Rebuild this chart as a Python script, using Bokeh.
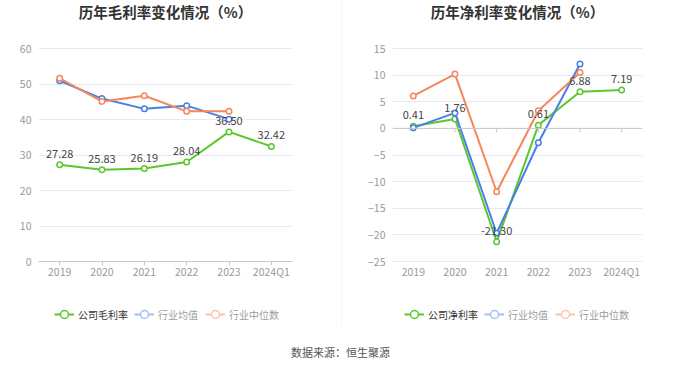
from bokeh.plotting import figure
from bokeh.models import (ColumnDataSource, LabelSet, Label, Legend, LegendItem,
                          FixedTicker, Span, Range1d)
from bokeh.layouts import row, column
from bokeh.embed import file_html
from bokeh.resources import INLINE
from bokeh.core.properties import value

# ---------------- data ----------------
years = ["2019", "2020", "2021", "2022", "2023", "2024Q1"]
industry_years = ["2019", "2020", "2021", "2022", "2023"]

gross_company = [27.28, 25.83, 26.19, 28.04, 36.50, 32.42]
gross_ind_avg = [50.9, 45.9, 43.0, 43.9, 40.1]
gross_ind_median = [51.6, 45.1, 46.7, 42.3, 42.3]
gross_ticks = [0, 10, 20, 30, 40, 50, 60]

net_company = [0.41, 1.76, -21.30, 0.61, 6.88, 7.19]
net_ind_avg = [0.1, 2.9, -19.7, -2.7, 12.1]
net_ind_median = [6.1, 10.2, -11.9, 3.3, 10.5]
net_ticks = [-25, -20, -15, -10, -5, 0, 5, 10, 15]

titles = ["历年毛利率变化情况（%）", "历年净利率变化情况（%）"]
company_names = ["公司毛利率", "公司净利率"]
avg_name = "行业均值"
median_name = "行业中位数"
source_text = "数据来源：恒生聚源"

# ---------------- style ----------------
FONT = "Noto Sans CJK SC"
GREEN = "#5cc72c"
BLUE = "#4a7ee8"
ORANGE = "#f7855a"
GRID = "#e6e9f2"
AXIS = "#c8c8c8"
TICK_TXT = "#999999"

H = 325          # canvas height of each chart
PLOT_TOP = 48    # pixel row of the top tick
PLOT_H = 213     # pixel height between top and bottom tick


def make_chart(title, cname, company, avg, median, ticks, width,
               border_left, border_right, zero_axis, legend_xs):
    lo, hi = ticks[0], ticks[-1]
    ppu = PLOT_H / (hi - lo)
    yr = (lo - (H - PLOT_TOP - PLOT_H) / ppu, hi + PLOT_TOP / ppu)
    p = figure(width=width, height=H, x_range=years, y_range=Range1d(*yr),
               output_backend="svg", toolbar_location=None,
               min_border_left=border_left, min_border_right=border_right,
               min_border_top=0, min_border_bottom=0)
    p.title.visible = False
    p.outline_line_color = None
    p.background_fill_color = "white"
    p.border_fill_color = "white"
    p.xgrid.grid_line_color = None
    p.ygrid.grid_line_color = GRID
    p.ygrid.grid_line_width = 1
    p.ygrid.ticker = FixedTicker(ticks=ticks)
    p.yaxis.ticker = FixedTicker(ticks=ticks)
    p.yaxis.axis_line_color = None
    p.yaxis.major_tick_line_color = None
    p.yaxis.minor_tick_line_color = None
    p.yaxis.major_tick_out = 0
    p.yaxis.major_tick_in = 0
    p.yaxis.major_label_standoff = 7
    p.yaxis.major_label_text_font = FONT
    p.yaxis.major_label_text_font_size = "10.5px"
    p.yaxis.major_label_text_color = TICK_TXT

    p.xaxis.fixed_location = lo
    p.xaxis.major_label_text_font = FONT
    p.xaxis.major_label_text_font_size = "10.5px"
    p.xaxis.major_label_text_color = TICK_TXT
    if zero_axis:
        p.xaxis.axis_line_color = None
        p.xaxis.major_tick_line_color = None
        p.xaxis.major_tick_out = 0
        p.xaxis.major_tick_in = 0
        p.xaxis.major_label_standoff = 2
        p.add_layout(Span(location=0, dimension="width", line_color=AXIS, line_width=1))
        tick_len = 4 / ppu
        p.segment(x0=years, y0=[0] * len(years), x1=years,
                  y1=[-tick_len] * len(years), line_color=AXIS, line_width=1)
    else:
        p.xaxis.axis_line_color = AXIS
        p.xaxis.axis_line_width = 1
        p.xaxis.major_tick_line_color = AXIS
        p.xaxis.major_tick_out = 4
        p.xaxis.major_tick_in = 0
        p.xaxis.major_label_standoff = -2

    src_c = ColumnDataSource(dict(x=years, y=company, t=["%.2f" % v for v in company]))
    src_a = ColumnDataSource(dict(x=industry_years, y=avg))
    src_m = ColumnDataSource(dict(x=industry_years, y=median))

    def series(src, col, visible=True):
        l = p.line("x", "y", source=src, line_color=col, line_width=2, visible=visible)
        s = p.scatter("x", "y", source=src, marker="circle", size=5.5,
                      fill_color="white", line_color=col, line_width=1.5, visible=visible)
        return [l, s]

    rc = series(src_c, GREEN)
    series(src_a, BLUE)
    series(src_m, ORANGE)

    p.add_layout(LabelSet(x="x", y="y", text="t", source=src_c, y_offset=11,
                          text_align="center", text_baseline="middle",
                          text_font=value(FONT), text_font_size="11px",
                          text_color="#444444"))

    # hidden copies: their legend entries are drawn faded
    ra_h = series(src_a, BLUE, visible=False)
    rm_h = series(src_m, ORANGE, visible=False)

    entries = [(cname, rc), (avg_name, ra_h), (median_name, rm_h)]
    for (name, rends), lx in zip(entries, legend_xs):
        leg = Legend(items=[LegendItem(label=name, renderers=rends)],
                     location=(lx, 0), orientation="horizontal", click_policy="hide",
                     padding=0, margin=0, border_line_color=None,
                     background_fill_alpha=0, glyph_width=20, glyph_height=22,
                     label_standoff=4, label_height=22,
                     inactive_fill_color="white", inactive_fill_alpha=0.5,
                     label_text_font=FONT, label_text_font_size="10px",
                     label_text_color="#333333", label_text_baseline="middle")
        p.add_layout(leg)

    frame_w = width - border_left - border_right
    p.add_layout(Label(x=frame_w / 2, y=H - 11, x_units="screen", y_units="screen",
                       text=title, text_align="center", text_baseline="middle",
                       text_font=FONT, text_font_size="14.5px",
                       text_font_style="bold", text_color="#333333"))
    return p


p1 = make_chart(titles[0], company_names[0], gross_company, gross_ind_avg, gross_ind_median,
                gross_ticks, 341, 38, 49, False, [16, 96, 167])
p2 = make_chart(titles[1], company_names[1], net_company, net_ind_avg, net_ind_median,
                net_ticks, 330, 50, 30, True, [12, 92, 163])

sep = figure(width=1, height=H, output_backend="svg", toolbar_location=None,
             x_range=Range1d(0, 1), y_range=Range1d(0, 1),
             x_axis_location=None, y_axis_location=None, min_border=0)
sep.title.visible = False
sep.outline_line_color = None
sep.grid.grid_line_color = None
sep.background_fill_color = "#eeeeee"
sep.border_fill_color = "#eeeeee"

p3 = figure(width=672, height=40, output_backend="svg", toolbar_location=None,
            x_range=Range1d(0, 1), y_range=Range1d(0, 1),
            x_axis_location=None, y_axis_location=None, min_border=0)
p3.title.visible = False
p3.outline_line_color = None
p3.grid.grid_line_color = None
p3.add_layout(Label(x=340, y=14, x_units="screen", y_units="screen", text=source_text,
                    text_align="center", text_baseline="middle",
                    text_font=FONT, text_font_size="11px", text_color="#555555"))

layout = column(row(p1, sep, p2), p3)

open("out.html", "w").write(file_html(layout, INLINE))
